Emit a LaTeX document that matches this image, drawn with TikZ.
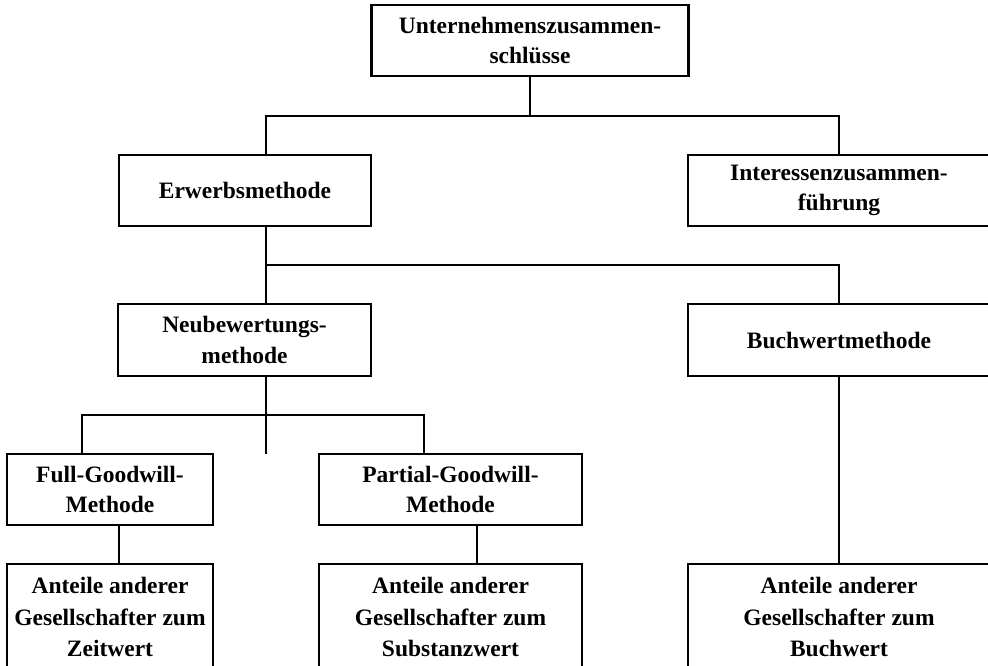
\documentclass[tikz,border=0pt]{standalone}
\usepackage{fontspec}
\setmainfont{Liberation Serif}
\begin{document}
\begin{tikzpicture}[x=1pt,y=-1pt,
  box/.style={draw, line width=2.2pt, inner sep=0pt, align=center,
    font=\bfseries\fontsize{23.5}{30.5}\selectfont, minimum height=71pt},
  tallbox/.style={box, minimum height=106pt, font=\bfseries\fontsize{23.5}{31.5}\selectfont},
  conn/.style={line width=2.2pt}]
\clip (0,0) rectangle (988,665);
% boxes
\node[box, minimum width=317pt] (top) at (530,40.5) {Unternehmenszusammen-\\schlüsse};
\node[box, minimum width=252pt] (erw) at (245,190.5) {Erwerbsmethode};
\node[box, minimum width=302pt] (int) at (839,190.5) {Interessenzusammen-\\führung};
\node[box, minimum width=253pt, minimum height=72pt] (neu) at (244.5,340) {Neubewertungs-\\methode};
\node[box, minimum width=302pt, minimum height=72pt] (buch) at (839,340) {Buchwertmethode};
\node[box, minimum width=206pt] (full) at (110,489.5) {Full-Goodwill-\\Methode};
\node[box, minimum width=263pt] (part) at (450.5,489.5) {Partial-Goodwill-\\Methode};
\node[tallbox, minimum width=206pt] (ant1) at (110,617) {Anteile anderer\\Gesellschafter zum\\Zeitwert};
\node[tallbox, minimum width=263pt] (ant2) at (450.5,617) {Anteile anderer\\Gesellschafter zum\\Substanzwert};
\node[tallbox, minimum width=302pt] (ant3) at (839,617) {Anteile anderer\\Gesellschafter zum\\Buchwert};
% junction coordinates
\coordinate (b1) at (266,116);
\coordinate (b2) at (839,116);
\coordinate (c1) at (266,265);
\coordinate (c2) at (839,265);
\coordinate (d0) at (266,454);
\coordinate (d1) at (82,415);
\coordinate (d2) at (424,415);
\coordinate (e1) at (119,540);
\coordinate (e2) at (477,540);
% connectors
\draw[conn] (top.south) -- (top.south |- b1);
\draw[conn] (erw.north -| b1) -- (b1) -- (b2) -- (int.north);
\draw[conn] (erw.south -| c1) -- (neu.north -| c1);
\draw[conn] (c1) -- (c2) -- (buch.north);
\draw[conn] (neu.south -| d0) -- (d0);
\draw[conn] (full.north -| d1) -- (d1) -- (d2) -- (part.north -| d2);
\draw[conn] (full.south -| e1) -- (ant1.north -| e1);
\draw[conn] (part.south -| e2) -- (ant2.north -| e2);
\draw[conn] (buch.south) -- (ant3.north);
\end{tikzpicture}
\end{document}
